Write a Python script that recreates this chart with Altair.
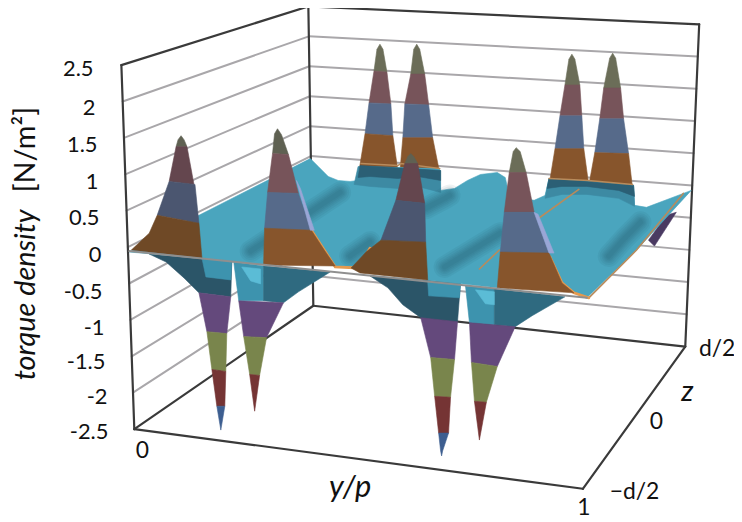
import altair as alt
import pandas as pd

# --- wall grid: torque density levels from +2.5 down to -2.5
levels = ["2.5", "2", "1.5", "1", "0.5", "0", "-0.5", "-1", "-1.5", "-2", "-2.5"]
level_y = [68, 107, 144, 182, 218, 255, 292, 328, 363, 398, 433]
label_x = [94, 96, 98, 99, 100, 102, 103, 105, 106, 108, 109]

# box corners as seen in the picture
LT = (122, 64); LB = (135, 430)
BT = (310, 5); BB = (315, 306)
RT = (703, 23); RB = (689, 347)
FB = (586, 490)


def lerp(a, b, t):
    return (a[0] + (b[0] - a[0]) * t, a[1] + (b[1] - a[1]) * t)


rows = []


def add(group, color, pts):
    for i, (x, y) in enumerate(pts):
        rows.append({"g": group, "c": color, "i": i, "x": x, "y": y})


# surface colours
TEAL = "#4aa5be"
DTEAL = "#2b5568"
MTEAL = "#2f6a80"
STEAL = "#3d93ae"
LTEAL = "#5bbcd6"
# bands
G1 = "#6b6d58"; M1 = "#77545a"; B1 = "#566a8a"; O1 = "#87552c"
G2 = "#5f6152"; M2 = "#64464e"; B2 = "#4b5670"; O2 = "#6f4926"
PU = "#64497c"; OL = "#79854c"; RE = "#753434"; BL = "#3d5e90"

# pits (below the surface)
pit_a = [
    (DTEAL, [(150, 254), (233, 262), (232, 297), (200, 293), (185, 278), (167, 262)]),
    (STEAL, [(203, 258), (233, 262), (232, 280), (207, 277)]),
    (PU, [(200, 293), (232, 297), (228, 334), (208, 332)]),
    (OL, [(208, 332), (228, 334), (227, 372), (213, 370)]),
    (RE, [(213, 370), (227, 372), (226, 407), (218, 407)]),
    (BL, [(218, 407), (226, 407), (223, 425), (222, 431), (221, 425)]),
]
pit_b = [
    (STEAL, [(235, 262), (265, 266), (265, 301), (240, 301)]),
    (MTEAL, [(265, 266), (332, 272), (300, 292), (285, 303), (265, 301)]),
    (LTEAL, [(243, 267), (262, 269), (262, 284), (252, 281)]),
    (PU, [(240, 301), (285, 303), (268, 338), (245, 337)]),
    (OL, [(245, 337), (268, 338), (261, 376), (251, 375)]),
    (RE, [(251, 375), (261, 376), (256, 412)]),
]
pit_c = [
    (DTEAL, [(372, 276), (463, 283), (460, 322), (423, 318), (405, 305), (390, 288)]),
    (STEAL, [(430, 281), (463, 284), (462, 298), (431, 296)]),
    (PU, [(423, 318), (460, 322), (457, 360), (433, 358)]),
    (OL, [(433, 358), (457, 360), (453, 398), (437, 397)]),
    (RE, [(437, 397), (453, 398), (451, 434), (441, 434)]),
    (BL, [(441, 434), (451, 434), (445, 452), (444, 457), (443, 452)]),
]
pit_d = [
    (STEAL, [(468, 286), (497, 289), (497, 325), (472, 323)]),
    (MTEAL, [(497, 289), (568, 297), (535, 316), (518, 327), (497, 325)]),
    (LTEAL, [(478, 290), (497, 292), (497, 305), (488, 304)]),
    (PU, [(472, 323), (518, 327), (500, 367), (474, 363)]),
    (OL, [(474, 363), (500, 367), (489, 403), (477, 402)]),
    (RE, [(477, 402), (489, 403), (482, 441)]),
]
for k, pit in enumerate([pit_a, pit_b, pit_c, pit_d]):
    for j, (c, pts) in enumerate(pit):
        add(f"pit{k}-{j}", c, pts)
add("wedge", "#4a3a62", [(652, 240), (658, 246), (680, 212), (670, 215)])

# back-row peaks
back = [
    [(382, 43), (379, 48), (376, 70), (389, 71), (385, 48)],
    [(419, 43), (416, 48), (413, 73), (427, 73), (422, 48)],
    [(575, 53), (572, 58), (568, 84), (583, 84), (578, 58)],
    [(616, 52), (613, 57), (607, 87), (624, 87), (619, 57)],
]
back_bands = [
    [(M1, [(376, 70), (389, 71), (393, 103), (371, 102)]),
     (B1, [(371, 102), (393, 103), (395, 135), (367, 133)]),
     (O1, [(367, 133), (395, 135), (400, 170), (361, 170)])],
    [(M1, [(413, 73), (427, 73), (431, 104), (407, 103)]),
     (B1, [(407, 103), (431, 104), (435, 137), (405, 137)]),
     (O1, [(405, 137), (435, 137), (442, 172), (402, 172)])],
    [(M1, [(568, 84), (583, 84), (585, 115), (563, 115)]),
     (B1, [(563, 115), (585, 115), (587, 148), (558, 148)]),
     (O1, [(558, 148), (587, 148), (592, 185), (552, 185)])],
    [(M1, [(607, 87), (624, 87), (627, 118), (603, 118)]),
     (B1, [(603, 118), (627, 118), (632, 153), (598, 152)]),
     (O1, [(598, 152), (632, 153), (636, 188), (592, 185)])],
]
for k, (tip, bands) in enumerate(zip(back, back_bands)):
    add(f"bt{k}", G1, tip)
    for j, (c, pts) in enumerate(bands):
        add(f"bb{k}-{j}", c, pts)

# main surface
surface = [
    (130, 252), (200, 215), (312, 158), (320, 166), (330, 176), (340, 180), (352, 181), (360, 180), (365, 166),
    (442, 168), (443, 190), (457, 188), (470, 180), (483, 174), (500, 172), (508, 177), (512, 195), (537, 200),
    (548, 195), (552, 178), (637, 185), (638, 205), (650, 207), (695, 190), (640, 250),
    (590, 298), (577, 293), (565, 283), (553, 257), (500, 288), (430, 280), (373, 247),
    (360, 268), (337, 267), (313, 230), (265, 265), (203, 258),
]
add("surface", TEAL, surface)

# dark base shading where the back peaks meet the surface
add("base1o", "#3d8aa3", [(360, 166), (443, 170), (443, 192), (420, 186), (400, 188), (372, 186), (356, 184)])
add("base1i", "#2b5f75", [(362, 165), (443, 170), (443, 180), (420, 176), (400, 178), (372, 176), (360, 177)])
add("base2o", "#3d8aa3", [(552, 178), (637, 185), (638, 206), (622, 198), (590, 194), (565, 194), (548, 198)])
add("base2i", "#2b5f75", [(552, 178), (637, 185), (638, 196), (622, 190), (590, 186), (565, 186), (550, 188)])

# valleys of the surface
valleys = [
    [(252, 251), (307, 215), (342, 192)],
    [(428, 208), (447, 198), (452, 195)],
    [(612, 256), (628, 238), (644, 222)],
    [(352, 256), (372, 242)],
    [(447, 267), (503, 233)],
]
orange_thick = [
    [(313, 230), (326, 250), (337, 267), (360, 268), (372, 248)],
    [(553, 257), (565, 283), (577, 293), (592, 298)],
]
orange_thin = [
    [(592, 298), (640, 250), (687, 193)],
    [(543, 217), (582, 189)],
    [(482, 269), (502, 250)],
    [(363, 163), (400, 165), (403, 163), (442, 168)],
    [(552, 178), (592, 180), (636, 184)],
]

# front-row peaks
front = [
    [(G2, [(182, 135), (179, 139), (177, 146), (188, 146), (185, 139)]),
     (M2, [(177, 146), (188, 146), (195, 184), (170, 181)]),
     (B2, [(170, 181), (196, 184), (200, 223), (158, 215)]),
     (O2, [(158, 215), (200, 223), (203, 258), (132, 250), (150, 233)])],
    [(G2, [(279, 128), (276, 133), (274, 153), (290, 154), (283, 134)]),
     (M1, [(274, 153), (290, 154), (300, 193), (269, 192)]),
     (B1, [(269, 192), (300, 193), (313, 230), (266, 228)]),
     (O1, [(266, 228), (313, 230), (326, 250), (337, 266), (265, 265)])],
    [(G2, [(413, 153), (410, 156), (407, 163), (420, 163), (416, 156)]),
     (M2, [(407, 163), (420, 163), (427, 203), (398, 200)]),
     (B2, [(398, 200), (427, 203), (428, 242), (383, 240)]),
     (O2, [(383, 240), (428, 242), (430, 280), (362, 273), (353, 268), (368, 252)])],
    [(G1, [(519, 147), (516, 151), (512, 172), (529, 172), (523, 151)]),
     (M1, [(512, 172), (529, 172), (537, 212), (507, 212)]),
     (B1, [(507, 212), (537, 212), (552, 253), (503, 252)]),
     (O1, [(503, 252), (552, 253), (565, 283), (577, 293), (500, 288)])],
]
for k, bands in enumerate(front):
    for j, (c, pts) in enumerate(bands):
        add(f"fr{k}-{j}", c, pts)
# lavender lit flanks of peaks 2 and 4
add("lav1", "#9aa6d6", [(298, 180), (302, 188), (316, 230), (312, 230)])
add("lav2", "#9aa6d6", [(537, 212), (541, 214), (557, 253), (552, 253)])

df = pd.DataFrame(rows)

SCX = alt.Scale(domain=[8, 738], nice=False, zero=False)
SCY = alt.Scale(domain=[522, 8], nice=False, zero=False)
X = alt.X("x:Q", scale=SCX, axis=None)
Y = alt.Y("y:Q", scale=SCY, axis=None)


def polyline(points, key):
    return pd.DataFrame([{"g": key, "i": i, "x": p[0], "y": p[1]} for i, p in enumerate(points)])


def table(paths, prefix):
    return pd.concat([polyline(p, f"{prefix}{i}") for i, p in enumerate(paths)])


grid = []
for n in range(1, 10):
    t = n / 10
    grid.append([lerp(LT, LB, t), lerp(BT, BB, t)])
    grid.append([lerp(BT, BB, t), lerp(RT, RB, t)])
grid_df = table(grid, "g")
edges = [[LT, LB], [LT, BT], [BT, RT], [BT, BB], [RT, RB], [LB, FB], [LB, BB], [FB, RB], [BB, RB]]
edge_df = table(edges, "e")
valley_df = table(valleys, "v")
thick_df = table(orange_thick, "o")
thin_df = table(orange_thin, "p")
front_line_df = polyline([(130, 251), (590, 298)], "f")


def lines(data, color, width, opacity=1.0):
    return alt.Chart(data).mark_line(color=color, strokeWidth=width, opacity=opacity, strokeCap="round").encode(
        x=X, y=Y, detail="g:N", order="i:Q")


groups = list(dict.fromkeys(df["g"]))


def polys(names):
    d = df[df["g"].isin(names)]
    return alt.Chart(d).mark_line(strokeWidth=0.6, interpolate="linear-closed").encode(
        x=X, y=Y, detail="g:N", order="i:Q",
        fill=alt.Fill("c:N", scale=None), stroke=alt.Stroke("c:N", scale=None))


below = [g for g in groups if g.startswith("pit") or g == "wedge" or g.startswith("bt") or g.startswith("bb")]
surf = ["surface", "base1o", "base1i", "base2o", "base2i"]
above = [g for g in groups if g.startswith("fr") or g.startswith("lav")]

INK = "#111111"
labels_df = pd.DataFrame({"t": levels, "x": label_x, "y": level_y})
tick_text = alt.Chart(labels_df).mark_text(font="Lato", fontSize=22, align="right", baseline="middle", color=INK).encode(
    x=X, y=Y, text="t:N")
other_df = pd.DataFrame({"t": ["0", "1", "0", "\u2212d/2", "d/2"],
                         "x": [143, 587, 660, 638, 721],
                         "y": [452, 509, 423, 493, 350]})
other_text = alt.Chart(other_df).mark_text(font="Lato", fontSize=23, baseline="middle", color=INK).encode(x=X, y=Y, text="t:N")
yp_text = alt.Chart(pd.DataFrame({"t": ["y/p"], "x": [352], "y": [489]})).mark_text(
    font="Lato", fontSize=31, fontStyle="italic", baseline="middle", color=INK).encode(x=X, y=Y, text="t:N")
z_text = alt.Chart(pd.DataFrame({"t": ["z"], "x": [691], "y": [393]})).mark_text(
    font="Lato", fontSize=29, fontStyle="italic", baseline="middle", color=INK).encode(x=X, y=Y, text="t:N")
ytitle1 = alt.Chart(pd.DataFrame({"t": ["torque density"], "x": [26], "y": [295]})).mark_text(
    font="Lato", fontSize=29, fontStyle="italic", angle=270, baseline="middle", color=INK).encode(x=X, y=Y, text="t:N")
ytitle2 = alt.Chart(pd.DataFrame({"t": ["[N/m\u00b2]"], "x": [26], "y": [149]})).mark_text(
    font="Lato", fontSize=29, angle=270, baseline="middle", color=INK).encode(x=X, y=Y, text="t:N")

soft = [lines(valley_df, "#23495c", w, 0.07) for w in (22, 18, 14, 11, 8, 5)]

chart = alt.layer(
    lines(grid_df, "#a9a7aa", 2),
    lines(edge_df, "#3a3a3a", 2.2),
    polys(below),
    polys(surf),
    *soft,
    lines(thin_df, "#b88b5c", 1.6),
    lines(thick_df, "#e59a4f", 2.8),
    polys(above),
    lines(front_line_df, "#8f8f8f", 2),
    tick_text, other_text, yp_text, z_text, ytitle1, ytitle2,
).properties(width=730, height=514, padding=0, autosize=alt.AutoSizeParams(type="none")).configure_view(stroke=None)

chart.save("out.html", embed_options={"renderer": "svg", "actions": False})
